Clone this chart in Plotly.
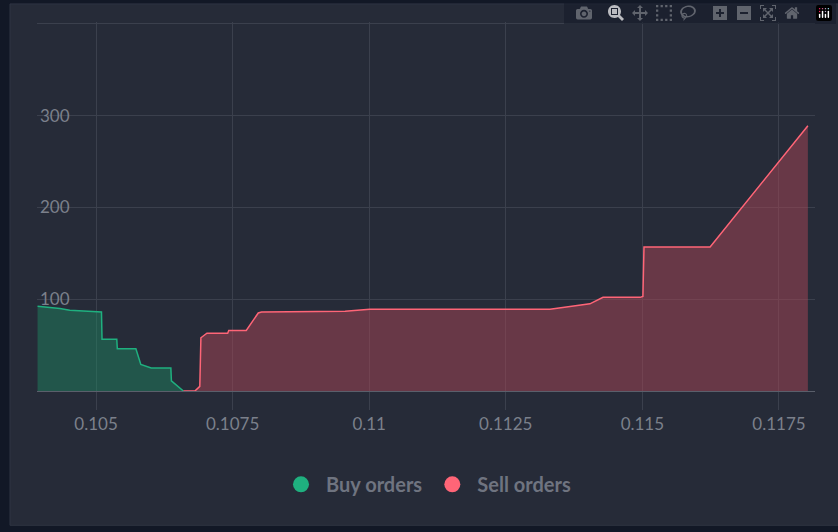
import plotly.graph_objects as go

buy_price = [0.10393, 0.10434, 0.10452, 0.10485, 0.10510, 0.10511, 0.10538, 0.10539, 0.10573, 0.10582, 0.10601, 0.10637, 0.10638, 0.10660]
buy_qty = [92.4, 90, 88, 87, 86, 56.5, 56.5, 46, 46, 29, 25, 25, 11, 0]

sell_price = [0.10660, 0.10681, 0.10690, 0.10692, 0.10703, 0.10741, 0.10743, 0.10775, 0.10797, 0.10803, 0.10956, 0.11001, 0.11331, 0.11404, 0.11428, 0.11496, 0.11501, 0.11503, 0.11624, 0.11803]
sell_qty = [0, 0, 5, 58, 63, 63, 66, 66, 85, 86, 87, 89, 89, 95, 102, 102, 103, 157, 157, 289]

x_ticks = [0.105, 0.1075, 0.11, 0.1125, 0.115, 0.1175]
x_labels = ["0.105", "0.1075", "0.11", "0.1125", "0.115", "0.1175"]
y_ticks = [100, 200, 300, 400]

grid = "#3b404d"
fig = go.Figure()
fig.add_trace(go.Scatter(x=buy_price, y=buy_qty, name="Buy orders", mode="lines", showlegend=False,
                         line=dict(color="#1fb07f", width=1.5), fill="tozeroy",
                         fillcolor="rgba(31,140,100,0.45)"))
fig.add_trace(go.Scatter(x=sell_price, y=sell_qty, name="Sell orders", mode="lines", showlegend=False,
                         line=dict(color="#ff6577", width=1.5), fill="tozeroy",
                         fillcolor="rgba(170,70,85,0.5)"))
fig.add_trace(go.Scatter(x=[None], y=[None], name="Buy orders", mode="markers",
                         marker=dict(color="#1fb07f", size=20, symbol="circle")))
fig.add_trace(go.Scatter(x=[None], y=[None], name="Sell orders", mode="markers",
                         marker=dict(color="#ff6577", size=20, symbol="circle")))
fig.add_shape(type="rect", xref="paper", yref="paper", x0=-0.0347, x1=1.04, y0=-0.364, y1=1.049,
              fillcolor="#262b38", line=dict(color="#2e3442", width=1), layer="below")
fig.update_layout(
    width=838, height=532, paper_bgcolor="#121826", plot_bgcolor="rgba(0,0,0,0)",
    margin=dict(l=37, r=23, t=22, b=141),
    font=dict(family="Lato", color="#7b808b", size=17),
    showlegend=True,
    legend=dict(orientation="h", x=0.5, xanchor="center", y=-0.2, yanchor="top",
                font=dict(size=20, color="#6f7480", family="Lato", weight="bold"),
                itemwidth=40, bgcolor="rgba(0,0,0,0)"),
    xaxis=dict(range=[0.10392, 0.11816], tickvals=x_ticks, ticktext=x_labels, showgrid=True,
               gridcolor=grid, ticks="outside", ticklen=18, tickcolor=grid, zeroline=False,
               showline=True, linecolor="#5a5f6b", tickfont=dict(size=17, color="#7b808b")),
    yaxis=dict(range=[0, 402], tickvals=y_ticks, showgrid=True, gridcolor=grid, zeroline=False,
               ticklabelposition="inside", tickfont=dict(size=17, color="#7b808b")),
)
fig.write_html("out.html", post_script="document.body.style.margin='0';document.body.style.background='#121826';")
